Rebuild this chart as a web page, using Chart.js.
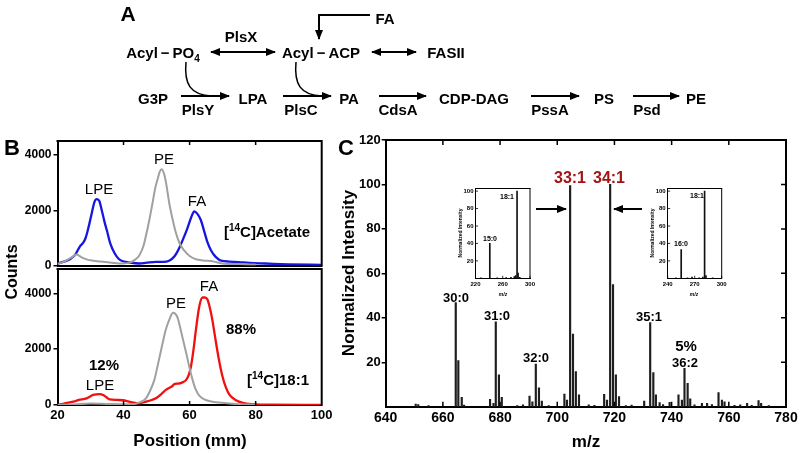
<!DOCTYPE html>
<html><head><meta charset="utf-8">
<script src="https://cdn.jsdelivr.net/npm/chart.js@4.4.0/dist/chart.umd.min.js"></script>
<style>
html,body{margin:0;padding:0;background:#fff;width:800px;height:453px;overflow:hidden;position:relative;font-family:"Liberation Sans",Arial,sans-serif;}
canvas{position:absolute;}
.t{position:absolute;transform:translate(-50%,-50%);white-space:nowrap;line-height:1;color:#000;}
.b{font-weight:bold;}
.r{transform:translate(-50%,-50%) rotate(-90deg);}
.sub{font-size:10px;position:relative;top:4px;}
.sup{font-size:10px;position:relative;top:-6px;}
</style></head><body>
<canvas id="cB1" width="340" height="155" style="left:0;top:125px"></canvas>
<canvas id="cB2" width="340" height="198" style="left:0;top:255px"></canvas>
<canvas id="cC" width="500" height="323" style="left:320px;top:130px"></canvas>
<canvas id="cI1" width="110" height="125" style="left:440px;top:175px"></canvas>
<canvas id="cI2" width="110" height="125" style="left:632px;top:175px"></canvas>

<svg width="800" height="453" style="position:absolute;left:0;top:0">
<defs><marker id="ah" viewBox="0 0 10 8" refX="9" refY="4" markerWidth="10" markerHeight="8" markerUnits="userSpaceOnUse" orient="auto-start-reverse"><path d="M0,0 L10,4 L0,8 z" fill="#000"/></marker></defs>
<g stroke="#000" stroke-width="2" fill="none">
<path d="M370 15 H319 V39" marker-end="url(#ah)"/>
<line x1="211" y1="52" x2="275" y2="52" marker-start="url(#ah)" marker-end="url(#ah)"/>
<line x1="372" y1="52" x2="416" y2="52" marker-start="url(#ah)" marker-end="url(#ah)"/>
<line x1="181" y1="96" x2="229" y2="96" marker-end="url(#ah)"/>
<line x1="283" y1="96" x2="331" y2="96" marker-end="url(#ah)"/>
<line x1="379" y1="96" x2="426" y2="96" marker-end="url(#ah)"/>
<line x1="531" y1="96" x2="579" y2="96" marker-end="url(#ah)"/>
<line x1="633" y1="96" x2="679" y2="96" marker-end="url(#ah)"/>
<path d="M186 62 C184 84, 190 95, 212 96" stroke-width="1.5"/>
<path d="M296 62 C294 84, 300 95, 322 96" stroke-width="1.5"/>
<line x1="536" y1="209" x2="566" y2="209" marker-end="url(#ah)"/>
<line x1="642" y1="209" x2="614" y2="209" marker-end="url(#ah)"/>
</g></svg>

<!-- Panel A -->
<div class="t b" style="left:128px;top:13px;font-size:21px">A</div>
<div class="t b" style="left:385px;top:18px;font-size:15px">FA</div>
<div class="t b" style="left:241px;top:36px;font-size:15px">PlsX</div>
<div class="t b" style="left:163px;top:52px;font-size:15px">Acyl&thinsp;−&thinsp;PO<span class="sub">4</span></div>
<div class="t b" style="left:321px;top:52px;font-size:15px">Acyl&thinsp;−&thinsp;ACP</div>
<div class="t b" style="left:446px;top:52px;font-size:15px">FASII</div>
<div class="t b" style="left:153px;top:98px;font-size:15px">G3P</div>
<div class="t b" style="left:253px;top:98px;font-size:15px">LPA</div>
<div class="t b" style="left:349px;top:98px;font-size:15px">PA</div>
<div class="t b" style="left:474px;top:98px;font-size:15px">CDP-DAG</div>
<div class="t b" style="left:604px;top:98px;font-size:15px">PS</div>
<div class="t b" style="left:696px;top:98px;font-size:15px">PE</div>
<div class="t b" style="left:198px;top:109px;font-size:15px">PlsY</div>
<div class="t b" style="left:301px;top:109px;font-size:15px">PlsC</div>
<div class="t b" style="left:398px;top:109px;font-size:15px">CdsA</div>
<div class="t b" style="left:550px;top:109px;font-size:15px">PssA</div>
<div class="t b" style="left:647px;top:109px;font-size:15px">Psd</div>

<!-- Panel B -->
<div class="t b" style="left:12px;top:148px;font-size:22px">B</div>
<div class="t b r" style="left:12px;top:272px;font-size:16px">Counts</div>
<div class="t b" style="left:190px;top:440px;font-size:17px">Position (mm)</div>
<div class="t" style="left:99px;top:188px;font-size:15px">LPE</div>
<div class="t" style="left:164px;top:158px;font-size:15px">PE</div>
<div class="t" style="left:197px;top:200px;font-size:15px">FA</div>
<div class="t b" style="left:267px;top:231px;font-size:15px">[<span class="sup">14</span>C]Acetate</div>
<div class="t" style="left:209px;top:285px;font-size:15px">FA</div>
<div class="t" style="left:176px;top:302px;font-size:15px">PE</div>
<div class="t b" style="left:241px;top:328px;font-size:15px">88%</div>
<div class="t b" style="left:104px;top:364px;font-size:15px">12%</div>
<div class="t" style="left:100px;top:384px;font-size:15px">LPE</div>
<div class="t b" style="left:278px;top:379px;font-size:15px">[<span class="sup">14</span>C]18:1</div>

<!-- Panel C -->
<div class="t b" style="left:346px;top:148px;font-size:22px">C</div>
<div class="t b r" style="left:348px;top:273px;font-size:17px">Normalized Intensity</div>
<div class="t b" style="left:586px;top:441px;font-size:17px">m/z</div>
<div class="t b" style="left:456px;top:297px;font-size:13px">30:0</div>
<div class="t b" style="left:497px;top:315px;font-size:13px">31:0</div>
<div class="t b" style="left:536px;top:357px;font-size:13px">32:0</div>
<div class="t b" style="left:649px;top:316px;font-size:13px">35:1</div>
<div class="t b" style="left:686px;top:345px;font-size:15px">5%</div>
<div class="t b" style="left:685px;top:362px;font-size:13px">36:2</div>
<div class="t b" style="left:570px;top:178px;font-size:16px;color:#a31515">33:1</div>
<div class="t b" style="left:609px;top:178px;font-size:16px;color:#a31515">34:1</div>
<div class="t b r" style="left:460px;top:233px;font-size:5px">Normalized Intensity</div>
<div class="t b r" style="left:652px;top:233px;font-size:5px">Normalized Intensity</div>
<div class="t b" style="left:503px;top:294px;font-size:5px;font-style:italic">m/z</div>
<div class="t b" style="left:694px;top:294px;font-size:5px;font-style:italic">m/z</div>
<div class="t b" style="left:490px;top:238px;font-size:7px">15:0</div>
<div class="t b" style="left:507px;top:196px;font-size:7px">18:1</div>
<div class="t b" style="left:681px;top:243px;font-size:7px">16:0</div>
<div class="t b" style="left:697px;top:195px;font-size:7px">18:1</div>

<script>
// ---- Panel B data (position in mm, counts) ----
const posBlue = [20,22,24,25.5,26.8,27.8,28.5,29.3,30.2,31.2,31.8,32.6,33.4,34.2,35,36,37.3,38.5,39.8,42,44.8,47,49.8,52,53.8,55.5,56.8,58,59.3,60.5,61.4,62.3,63.4,64.4,65.4,66.5,67.9,69.8,72,74.9,78,82.9,90,100];
const cntBlue = [80,150,250,420,700,830,1000,1340,1800,2300,2400,2350,2000,1600,1250,800,450,250,160,110,80,110,140,140,180,350,620,950,1340,1750,1960,1880,1650,1250,850,550,320,170,150,130,100,80,50,30];
const posGrayA = [20,22,24,25.8,27.3,29,30.8,33,34.8,37,39.8,42,43.5,44.8,46,46.8,47.8,48.8,49.6,50.3,51,51.5,52.3,53,53.8,54.8,55.8,57,58.3,60,61.9,64,66.9,69.8,75,80];
const cntGrayA = [60,150,280,400,300,220,180,150,130,100,80,120,220,380,700,1090,1650,2280,2800,3120,3400,3480,3300,2900,2280,1700,1210,800,560,350,235,190,160,80,60,40];
const posRed = [20,22,24.8,26.5,28.8,30.8,32.8,33.8,34.8,35.8,38,39.8,42,44.8,46.8,48.5,49.8,51.5,52.8,54.8,55.5,56.8,58,58.9,59.8,60.4,61.2,61.9,62.9,63.9,64.6,65.4,66.2,66.9,67.9,68.9,69.9,70.9,72,73.9,76,77.9,80,85,100];
const cntRed = [0,50,120,180,240,360,390,360,280,200,180,170,110,60,120,180,240,400,540,680,760,770,820,890,1100,1370,2000,2680,3510,3850,3850,3780,3450,3040,2300,1610,1050,655,380,180,80,40,20,10,0];
const posGrayB = [20,25,30,35,40,42.8,45,46.8,48,49.3,50.5,51.8,52.8,53.8,55,56.3,57,57.8,58.9,59.9,60.9,61.9,63,64.9,67,69.8,72,74.9,80];
const cntGrayB = [0,20,50,40,30,30,100,240,500,890,1500,2200,2700,3040,3300,3150,2850,2440,1900,1370,900,540,330,180,120,80,50,30,10];
const positionTicks = [20,40,60,80,100];
const countTicks = [0,2000,4000];

// ---- Panel C data (m/z, normalized intensity) ----
const mzPeaks = [650.5,651.4,655,664.5,665.4,666.6,667.4,676.5,677.7,678.5,679.6,680.6,686,688,690.3,691.3,692.5,693.6,694.6,697,702.5,703.4,704.5,705.5,706.5,707.6,711,713,716.4,717.4,718.5,719.5,720.5,721.6,724,726,730.4,732.5,733.6,734.5,735.8,737,739.3,742.4,743.6,744.5,745.6,746.5,748,750.6,752.4,754.1,756.4,757.6,758.5,762,764,766.4,768,770.4,771.3,774];
const intensityPeaks = [1.2,1,0.5,46.8,20.7,4.2,0.7,3.3,1.5,38.2,14.3,4.2,0.5,0.8,4.8,2.2,19.2,8.5,2.5,0.5,5.7,3,99.5,32.7,15.8,5.3,0.8,0.6,5.6,3,100,55,14.3,4.5,0.5,0.7,2.5,37.8,15.3,5.3,1.8,1,2,5.3,3,17.3,10.5,3.5,0.8,1.5,1.5,1,6.3,3,2.2,0.6,0.8,1.5,0.6,2.7,1.5,0.5];
const mzTicks = [640,660,680,700,720,740,760,780];
const intensityTicks = [20,40,60,80,100,120];

// ---- Insets ----
const insetMz1 = [228,241,252,265,272,277,279,281,282.5,285];
const insetInt1 = [0.5,40,0.5,0.7,1,2,3,100,6,1];
const insetMz2 = [249,255,262,267,275,279,281,282.5,290];
const insetInt2 = [0.5,33,0.5,1.5,0.5,1.5,100,3,0.5];
const inset1Ticks = [220,260,300];
const inset2Ticks = [240,270,300];
const insetYTicks = [20,40,60,80,100];

const FONT = "'Liberation Sans', Arial, sans-serif";
Chart.defaults.font.family = FONT;
Chart.defaults.color = '#000';

const pts = (xs, ys) => xs.map((x, i) => ({x: x, y: ys[i]}));
const setTicks = arr => s => { s.ticks = arr.map(v => ({value: v})); };
const plain = v => String(v);

const framePlugin = {
  id: 'frame',
  afterDraw(chart, args, o) {
    if (!o || !o.on) return;
    const {ctx, chartArea: a, scales: {x, y}} = chart;
    ctx.save();
    ctx.strokeStyle = '#000';
    ctx.lineWidth = o.lw || 2;
    ctx.lineCap = 'square';
    ctx.beginPath();
    if (o.top) { ctx.moveTo(a.left, a.top); ctx.lineTo(a.right, a.top); }
    if (o.right) { ctx.moveTo(a.right, a.top); ctx.lineTo(a.right, a.bottom); }
    ctx.stroke();
    ctx.lineWidth = o.tw || 1.5;
    ctx.lineCap = 'butt';
    ctx.beginPath();
    const L = o.len || 5;
    (o.topTicks || []).forEach(v => { const p = x.getPixelForValue(v); ctx.moveTo(p, a.top); ctx.lineTo(p, a.top + L); });
    (o.bottomTicks || []).forEach(v => { const p = x.getPixelForValue(v); ctx.moveTo(p, a.bottom); ctx.lineTo(p, a.bottom - L); });
    (o.rightTicks || []).forEach(v => { const p = y.getPixelForValue(v); ctx.moveTo(a.right, p); ctx.lineTo(a.right - L, p); });
    (o.leftTicks || []).forEach(v => { const p = y.getPixelForValue(v); ctx.moveTo(a.left, p); ctx.lineTo(a.left + L, p); });
    ctx.stroke();
    ctx.restore();
  }
};
Chart.register(framePlugin);

const lineDs = (xs, ys, color, w) => ({
  data: pts(xs, ys), borderColor: color, borderWidth: w, pointRadius: 0,
  tension: 0.4, cubicInterpolationMode: 'monotone', fill: false
});

function panelB(id, datasets, yMax, topPad, xAxisH, showX, frameOpts) {
  return new Chart(document.getElementById(id), {
    type: 'line',
    data: {datasets: datasets},
    options: {
      responsive: false, animation: false, events: [],
      layout: {padding: {top: topPad, right: 340 - 321.7, left: 0, bottom: 0}},
      plugins: {legend: {display: false}, tooltip: {enabled: false}, frame: frameOpts},
      scales: {
        x: {type: 'linear', min: 20, max: 100,
            afterFit: s => { s.height = xAxisH; },
            afterBuildTicks: setTicks(positionTicks),
            ticks: {display: showX, font: {size: 13, weight: 'bold'}, padding: 3, maxRotation: 0, autoSkip: false, callback: plain},
            grid: {display: false, drawTicks: false, tickLength: 0}, border: {color: '#000', width: 2}},
        y: {min: 0, max: yMax,
            afterFit: s => { s.width = 57.5; },
            afterBuildTicks: setTicks(countTicks),
            ticks: {font: {size: 12, weight: 'bold'}, padding: 2, callback: plain},
            grid: {drawOnChartArea: false, drawTicks: true, tickLength: 4, color: '#000', lineWidth: 1.5},
            border: {color: '#000', width: 2}}
      }
    }
  });
}

panelB('cB1', [lineDs(posGrayA, cntGrayA, '#a0a0a0', 2), lineDs(posBlue, cntBlue, '#1616e0', 2.3)],
  4500, 16, 14.3, false, {on: true, top: true, right: true, topTicks: [40, 60, 80], len: 4});
panelB('cB2', [lineDs(posGrayB, cntGrayB, '#a0a0a0', 2), lineDs(posRed, cntRed, '#f01010', 2.3)],
  4870, 14, 48, true, {on: true, top: true, right: true, bottomTicks: [40, 60, 80], len: 4});

new Chart(document.getElementById('cC'), {
  type: 'bar',
  data: {datasets: [{data: pts(mzPeaks, intensityPeaks), backgroundColor: '#1e1e1e', barThickness: 1.5, borderWidth: 0}]},
  options: {
    responsive: false, animation: false, events: [],
    layout: {padding: {top: 10, right: 34, left: 0, bottom: 0}},
    plugins: {legend: {display: false}, tooltip: {enabled: false},
      frame: {on: true, top: true, right: true, len: 5, lw: 2, tw: 1.5,
        topTicks: [660, 680, 700, 720, 740, 760], bottomTicks: [660, 680, 700, 720, 740, 760], rightTicks: [20, 40, 60, 80, 100]}},
    scales: {
      x: {type: 'linear', min: 640, max: 780, offset: false,
          afterFit: s => { s.height = 46.3; },
          afterBuildTicks: setTicks(mzTicks),
          ticks: {font: {size: 14, weight: 'bold'}, padding: 3, maxRotation: 0, autoSkip: false, callback: plain},
          grid: {display: false, offset: false, drawTicks: false, tickLength: 0}, border: {color: '#000', width: 2}},
      y: {min: 0, max: 120,
          afterFit: s => { s.width = 65.7; },
          afterBuildTicks: setTicks(intensityTicks),
          ticks: {font: {size: 13, weight: 'bold'}, padding: 1, callback: plain},
          grid: {drawOnChartArea: false, drawTicks: true, tickLength: 4, color: '#000', lineWidth: 1.5},
          border: {color: '#000', width: 2}}
    }
  }
});

function inset(id, mz, inten, xmin, xmax, xticks, yw, padR) {
  return new Chart(document.getElementById(id), {
    type: 'bar',
    data: {datasets: [{data: pts(mz, inten), backgroundColor: '#111', barThickness: 1, borderWidth: 0}]},
    options: {
      responsive: false, animation: false, events: [],
      layout: {padding: {top: 13.5, right: padR, left: 0, bottom: 0}},
      plugins: {legend: {display: false}, tooltip: {enabled: false},
        frame: {on: true, top: true, right: true, lw: 1, tw: 0.8, len: 2.5, leftTicks: insetYTicks, bottomTicks: xticks}},
      scales: {
        x: {type: 'linear', min: xmin, max: xmax, offset: false,
            afterFit: s => { s.height = 21.7; },
            afterBuildTicks: setTicks(xticks),
            ticks: {font: {size: 6, weight: 'bold'}, padding: 2, maxRotation: 0, autoSkip: false, callback: plain},
            grid: {display: false, offset: false, drawTicks: false, tickLength: 0}, border: {color: '#000', width: 1}},
        y: {min: 0, max: 103,
            afterFit: s => { s.width = yw; },
            afterBuildTicks: setTicks(insetYTicks),
            ticks: {font: {size: 6, weight: 'bold'}, padding: 2, callback: plain},
            grid: {display: false, drawTicks: false, tickLength: 0}, border: {color: '#000', width: 1}}
      }
    }
  });
}
inset('cI1', insetMz1, insetInt1, 220, 300, inset1Ticks, 35.5, 20);
inset('cI2', insetMz2, insetInt2, 240, 300, inset2Ticks, 35.7, 20.3);
</script>
</body></html>
